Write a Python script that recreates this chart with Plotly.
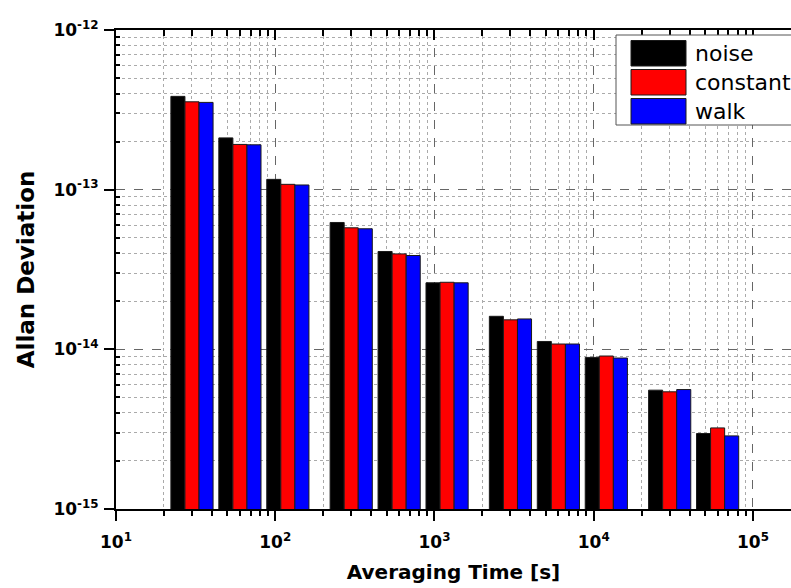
import numpy as np
import plotly.graph_objects as go

# ---------------- data ----------------
tau = [30, 60, 120, 300, 600, 1200, 3000, 6000, 12000, 30000, 60000]
noise = [3.84e-13, 2.11e-13, 1.16e-13, 6.23e-14, 4.10e-14, 2.61e-14,
         1.61e-14, 1.12e-14, 8.90e-15, 5.55e-15, 2.97e-15]
constant = [3.55e-13, 1.92e-13, 1.08e-13, 5.77e-14, 3.96e-14, 2.63e-14,
            1.53e-14, 1.08e-14, 9.08e-15, 5.42e-15, 3.22e-15]
walk = [3.52e-13, 1.91e-13, 1.07e-13, 5.69e-14, 3.87e-14, 2.61e-14,
        1.55e-14, 1.08e-14, 8.82e-15, 5.60e-15, 2.87e-15]
series_names = ["noise", "constant", "walk"]
series_values = [noise, constant, walk]
series_colors = ["#000000", "#ff0000", "#0000ff"]

x_tickvals = [10, 100, 1000, 10000, 100000]
x_ticktext = ["10<sup>1</sup>", "10<sup>2</sup>", "10<sup>3</sup>",
              "10<sup>4</sup>", "10<sup>5</sup>"]
y_tickvals = [1e-15, 1e-14, 1e-13, 1e-12]
y_ticktext = ["10<sup>-15</sup>", "10<sup>-14</sup>", "10<sup>-13</sup>",
              "10<sup>-12</sup>"]
x_title = "Averaging Time [s]"
y_title = "Allan Deviation"

# ---------------- layout geometry ----------------
W, H = 791, 588
ML, MR, MT, MB = 116, 0, 30, 79
XRANGE = [1, 5.239]
YRANGE = [-15, -12]

x_minor = [m * 10 ** e for e in range(1, 6) for m in range(2, 10)]
y_minor = [m * 10.0 ** e for e in range(-15, -12) for m in range(2, 10)]

FONT = "DejaVu Sans"

fig = go.Figure()
# bars live on a linear axis in log10(tau) units, aligned with the log axes
for name, vals, col in zip(series_names, series_values, series_colors):
    fig.add_trace(go.Bar(
        x=np.log10(tau), y=vals, name=name, xaxis="x", yaxis="y",
        marker=dict(color=col, line=dict(color="#1a1a1a", width=1)),
        showlegend=False,
    ))

# invisible traces so the overlay log axes are drawn
for ax in ("x2", "x3"):
    fig.add_trace(go.Scatter(x=[None], y=[None], xaxis=ax, yaxis="y",
                             mode="markers", showlegend=False, hoverinfo="skip"))

grid_major = dict(showgrid=True, gridcolor="#666666", griddash="dash", gridwidth=1)

fig.update_layout(
    width=W, height=H,
    margin=dict(l=ML, r=MR, t=MT, b=MB, autoexpand=False),
    paper_bgcolor="white", plot_bgcolor="white",
    barmode="group", bargap=0.12, bargroupgap=0,
    xaxis=dict(type="linear", range=XRANGE, showgrid=False, zeroline=False,
               showline=False, showticklabels=False, ticks="", anchor="y"),
    xaxis2=dict(
        type="log", range=XRANGE, overlaying="x", anchor="y", side="bottom",
        tickmode="array", tickvals=x_tickvals, ticktext=x_ticktext,
        ticks="outside", ticklen=10, tickwidth=2, tickcolor="black",
        showline=True, linewidth=2, linecolor="black", zeroline=False,
        **grid_major,
        minor=dict(tickmode="array", tickvals=x_minor, ticks="outside",
                   ticklen=5, tickwidth=1.5, tickcolor="black",
                   showgrid=True, gridcolor="#aaaaaa", griddash="dot", gridwidth=1),
        tickfont=dict(family=FONT, size=17, color="black", weight="bold"),
        ticklabelstandoff=7,
        title=dict(text=x_title, standoff=14,
                   font=dict(family=FONT, size=20, color="black", weight="bold")),
        automargin=False,
    ),
    xaxis3=dict(
        type="log", range=XRANGE, overlaying="x", anchor="y", side="top",
        tickmode="array", tickvals=x_tickvals, showticklabels=False,
        ticks="inside", ticklen=10, tickwidth=2, tickcolor="black",
        showline=True, linewidth=2, linecolor="black", showgrid=False,
        zeroline=False,
        minor=dict(tickmode="array", tickvals=x_minor, ticks="inside",
                   ticklen=6, tickwidth=1.5, tickcolor="black", showgrid=False),
    ),
    yaxis=dict(
        type="log", range=YRANGE, tickmode="array",
        tickvals=y_tickvals, ticktext=y_ticktext,
        ticks="outside", ticklen=10, tickwidth=2, tickcolor="black",
        showline=True, linewidth=2, linecolor="black", zeroline=False,
        **grid_major,
        minor=dict(tickmode="array", tickvals=y_minor, ticks="inside",
                   ticklen=4, tickwidth=1.5, tickcolor="black",
                   showgrid=True, gridcolor="#aaaaaa", griddash="dot", gridwidth=1),
        tickfont=dict(family=FONT, size=17, color="black", weight="bold"),
        ticklabelstandoff=2,
        title=dict(text=y_title, standoff=12,
                   font=dict(family=FONT, size=23, color="black", weight="bold")),
        automargin=False,
    ),
)

# ---------------- legend (drawn box, Origin-style large swatches) ----------------
PW = W - ML - MR
PH = H - MT - MB


def px2paper(px, py):
    return (px - ML) / PW, (H - MB - py) / PH


box_l, box_t, box_r, box_b = 616, 35, 800, 125
x0, y0 = px2paper(box_l, box_b)
x1, y1 = px2paper(box_r, box_t)
fig.add_shape(type="rect", xref="paper", yref="paper", x0=x0, y0=y0, x1=x1, y1=y1,
              line=dict(color="#555555", width=1), fillcolor="white", layer="above")

row_top, row_h, sw_h = 40.5, 29, 25.5
sw_l, sw_r, txt_x = 631, 686, 693
for i, (name, col) in enumerate(zip(series_names, series_colors)):
    top = row_top + i * row_h
    a0, b0 = px2paper(sw_l, top + sw_h)
    a1, b1 = px2paper(sw_r, top)
    fig.add_shape(type="rect", xref="paper", yref="paper", x0=a0, y0=b0, x1=a1, y1=b1,
                  line=dict(color="#1a1a1a", width=1), fillcolor=col, layer="above")
    tx, ty = px2paper(txt_x, top + sw_h / 2)
    fig.add_annotation(x=tx, y=ty, xref="paper", yref="paper", text=name,
                       showarrow=False, xanchor="left", yanchor="middle",
                       font=dict(family=FONT, size=22, color="black"))

fig.write_html("out.html")
